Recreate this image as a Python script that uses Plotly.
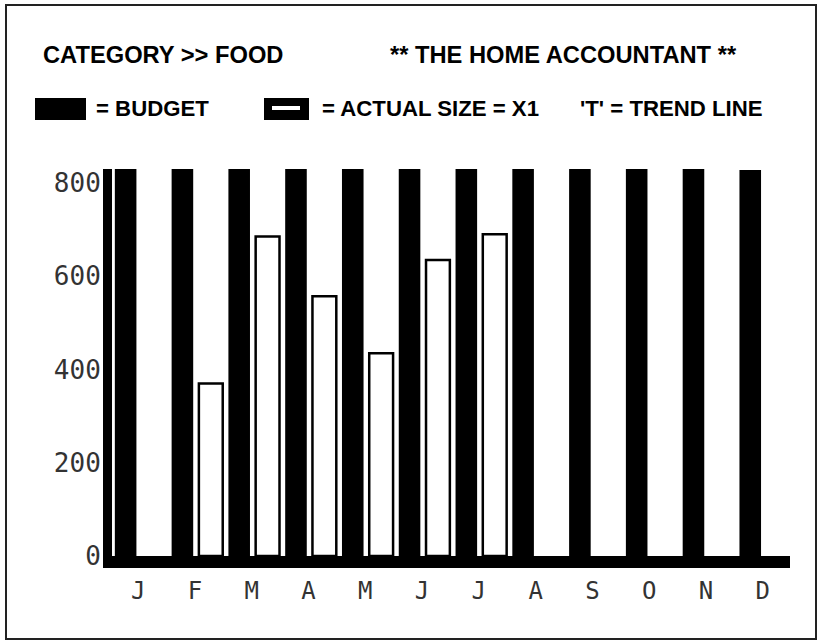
import plotly.graph_objects as go

# ---- data ----
months = ["J", "F", "M", "A", "M", "J", "J", "A", "S", "O", "N", "D"]
budget = [830, 830, 830, 830, 830, 830, 830, 830, 830, 830, 830, 828]
actual = [0, 370, 685, 557, 435, 635, 690, 0, 0, 0, 0, 0]
y_ticks = [0, 200, 400, 600, 800]

W, H = 819, 642
L, R, T, B = 112, 29, 169, 86
PW, PH = W - L - R, H - T - B


def px(x):
    return (x - L) / PW


def py(y):
    return (H - B - y) / PH


xs = list(range(len(months)))

fig = go.Figure()
fig.add_trace(go.Bar(
    x=xs, y=budget, width=0.38, offset=-0.41,
    marker=dict(color="black", line=dict(width=0)),
    showlegend=False, hoverinfo="skip",
))
fig.add_trace(go.Bar(
    x=xs, y=actual, width=0.42, offset=0.07,
    marker=dict(color="white",
                line=dict(color="black", width=[2.5 if v > 0 else 0 for v in actual])),
    showlegend=False, hoverinfo="skip",
))

font_family = "Liberation Sans, Arial, sans-serif"
title_font = dict(family=font_family, size=23.7, color="black")
legend_font = dict(family=font_family, size=22.2, color="black")

annotations = [
    dict(text="<b>CATEGORY >> FOOD</b>", x=px(41), y=py(55), font=title_font),
    dict(text="<b>** THE HOME ACCOUNTANT **</b>", x=px(388), y=py(55), font=title_font),
    dict(text="<b>= BUDGET</b>", x=px(94), y=py(109), font=legend_font),
    dict(text="<b>= ACTUAL SIZE = X1</b>", x=px(320), y=py(109), font=legend_font),
    dict(text="<b>'T' = TREND LINE</b>", x=px(578), y=py(109), font=legend_font),
]
for a in annotations:
    a.update(xref="paper", yref="paper", showarrow=False, xanchor="left", yanchor="middle")

shapes = [
    # outer frame
    dict(type="rect", xref="paper", yref="paper", x0=px(6), x1=px(816), y0=py(639), y1=py(5),
         line=dict(color="#222", width=2)),
    # legend key: budget
    dict(type="rect", xref="paper", yref="paper", x0=px(35), x1=px(86), y0=py(120), y1=py(98),
         fillcolor="black", line=dict(width=0)),
    # legend key: actual
    dict(type="rect", xref="paper", yref="paper", x0=px(264), x1=px(309), y0=py(120), y1=py(98),
         fillcolor="black", line=dict(width=0)),
    dict(type="rect", xref="paper", yref="paper", x0=px(272), x1=px(300), y0=py(110), y1=py(106),
         fillcolor="white", line=dict(width=0)),
]

fig.update_layout(
    width=W, height=H,
    margin=dict(l=L, r=R, t=T, b=B, pad=0),
    paper_bgcolor="white", plot_bgcolor="white",
    barmode="overlay",
    annotations=annotations,
    shapes=shapes,
    showlegend=False,
)
fig.update_xaxes(
    range=[-0.46, 11.48],
    tickmode="array", tickvals=xs, ticktext=months,
    showgrid=False, zeroline=False,
    showline=True, linecolor="black", linewidth=12,
    ticks="", ticklabelstandoff=2,
    tickfont=dict(family="DejaVu Sans Mono, monospace", size=24, color="#333"),
)
fig.update_yaxes(
    range=[0, 830],
    tickmode="array", tickvals=y_ticks, ticktext=[str(v) for v in y_ticks],
    showgrid=False, zeroline=False,
    showline=True, linecolor="black", linewidth=9,
    ticks="", ticklabelstandoff=-3,
    tickfont=dict(family="DejaVu Sans Mono, monospace", size=26, color="#333"),
)

fig.write_html("out.html", config={"displayModeBar": False},
               post_script="document.body.style.margin='0';")
